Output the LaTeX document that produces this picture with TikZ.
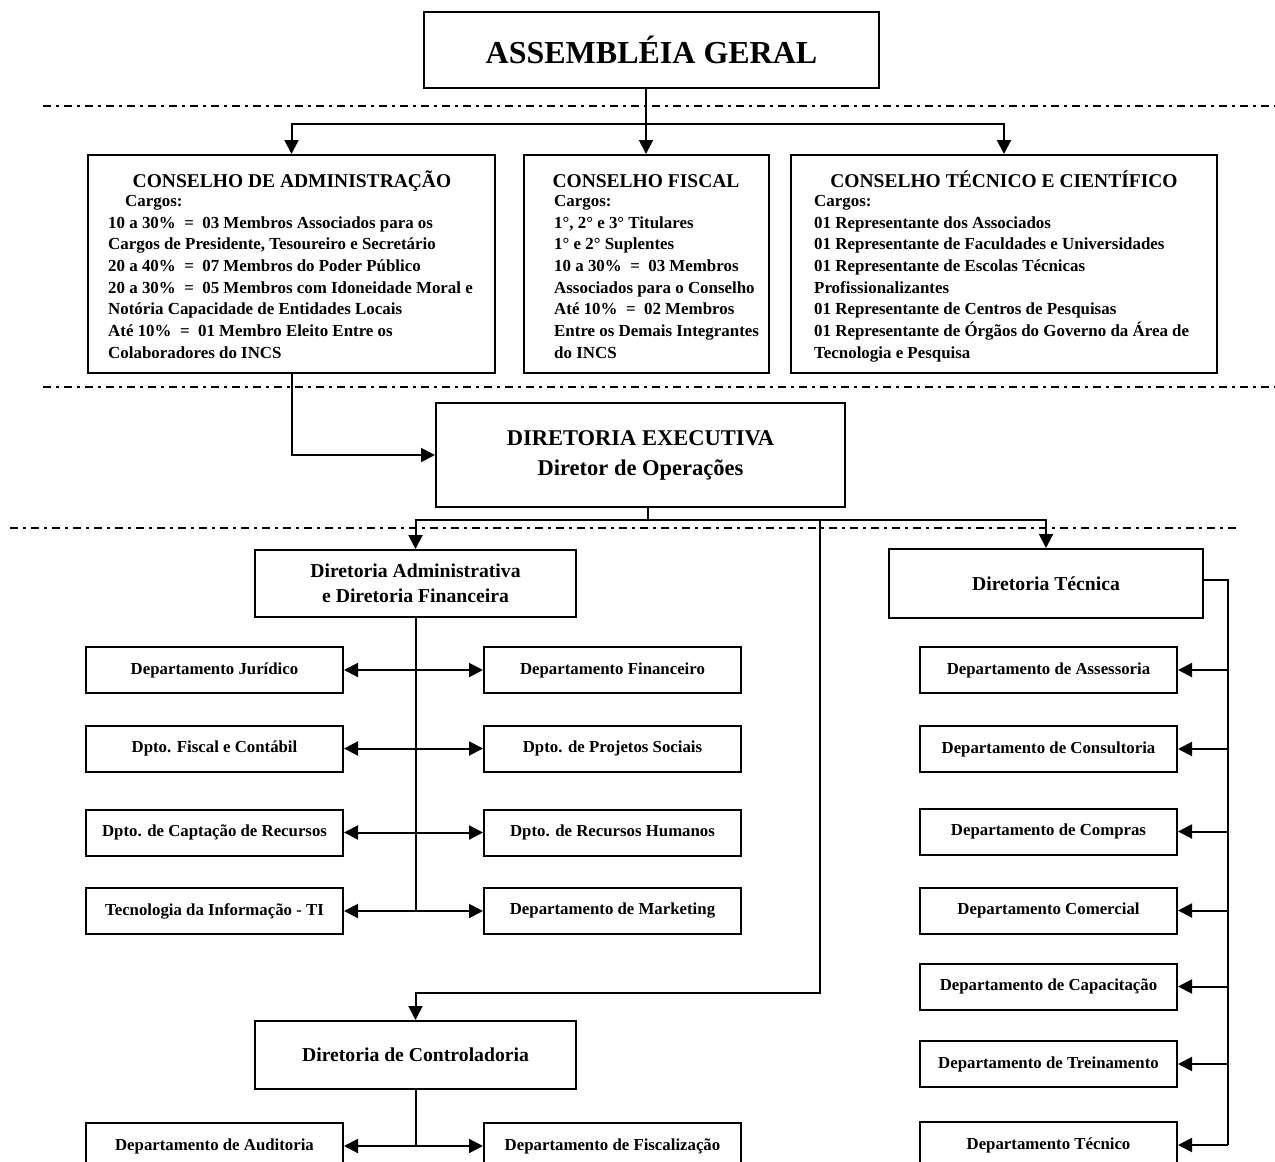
\documentclass[tikz,border=0pt]{standalone}
\usepackage{fontspec}
\setmainfont{Liberation Serif}
\usetikzlibrary{arrows.meta}
\begin{document}
\begin{tikzpicture}[x=1pt,y=-1pt,
  box/.style={draw,line width=2pt,inner sep=0pt,align=center},
  conn/.style={line width=2pt},
  arr/.style={conn,-{Triangle[length=14pt,width=14pt]}},
  dbl/.style={conn,{Triangle[length=14pt,width=14pt]}-{Triangle[length=14pt,width=14pt]}},
  sep/.style={line width=1.8pt,dash pattern=on 8pt off 5pt on 3pt off 5pt},
  dept/.style={box,minimum width=257pt,minimum height=46pt,font=\bfseries\fontsize{16.8}{20}\selectfont},
  dir/.style={box,minimum width=321pt,minimum height=67pt,font=\bfseries\fontsize{19.7}{25}\selectfont},
  head/.style={inner sep=0pt,anchor=base,font=\bfseries\fontsize{19.5}{22}\selectfont},
  body/.style={inner sep=0pt,anchor=north west,align=left,font=\bfseries\fontsize{16.9}{21.7}\selectfont},
]
\useasboundingbox (0,0) rectangle (1275,1162);
\clip (0,0) rectangle (1275,1162);

% separators
\draw[sep] (43,106) -- (1275,106);
\draw[sep] (43,387) -- (1275,387);
\draw[sep] (10,528) -- (1240,528);

% top
\node[box,minimum width=455pt,minimum height=76pt,font=\bfseries\fontsize{32}{36}\selectfont] (ag) at (651.5,50) {ASSEMBLÉIA GERAL};

% councils
\node[box,minimum width=407pt,minimum height=218pt] (ca) at (291.5,264) {};
\node[box,minimum width=245pt,minimum height=218pt] (cf) at (646,264) {};
\node[box,minimum width=426pt,minimum height=218pt] (ct) at (1004,264) {};

\node[head] (cah) at (292,187) {CONSELHO DE ADMINISTRAÇÃO};
\node[body] (cab) at (108,195) {\hspace*{17pt}Cargos:\\
10 a 30\% \ = \ 03 Membros Associados para os\\
Cargos de Presidente, Tesoureiro e Secretário\\
20 a 40\% \ = \ 07 Membros do Poder Público\\
20 a 30\% \ = \ 05 Membros com Idoneidade Moral e\\
Notória Capacidade de Entidades Locais\\
Até 10\% \ = \ 01 Membro Eleito Entre os\\
Colaboradores do INCS};

\node[head] (cfh) at (646,187) {CONSELHO FISCAL};
\node[body] (cfb) at (554,195) {Cargos:\\
1°, 2° e 3° Titulares\\
1° e 2° Suplentes\\
10 a 30\% \ = \ 03 Membros\\
Associados para o Conselho\\
Até 10\% \ = \ 02 Membros\\
Entre os Demais Integrantes\\
do INCS};

\node[head] (cth) at (1004,187) {CONSELHO TÉCNICO E CIENTÍFICO};
\node[body] (ctb) at (814,195) {Cargos:\\
01 Representante dos Associados\\
01 Representante de Faculdades e Universidades\\
01 Representante de Escolas Técnicas\\
Profissionalizantes\\
01 Representante de Centros de Pesquisas\\
01 Representante de Órgãos do Governo da Área de\\
Tecnologia e Pesquisa};

% executive
\node[box,minimum width=409pt,minimum height=104pt,font=\bfseries\fontsize{22.5}{30}\selectfont] (de) at (640.5,455) {DIRETORIA EXECUTIVA\\Diretor de Operações};

% directorates
\node[dir] (da) at (415.5,583.5) {Diretoria Administrativa\\e Diretoria Financeira};
\node[dir,minimum width=314pt,minimum height=69pt] (dt) at (1046,583.5) {Diretoria Técnica};
\node[dir,minimum height=68pt] (dc) at (415.5,1055) {Diretoria de Controladoria};

% admin departments
\node[dept] (jur) at (214.5,670) {Departamento Jurídico};
\node[dept] (fin) at (612.5,670) {Departamento Financeiro};
\node[dept] (fisc) at (214.5,748.5) {Dpto. Fiscal e Contábil};
\node[dept] (proj) at (612.5,748.5) {Dpto. de Projetos Sociais};
\node[dept] (capt) at (214.5,832.5) {Dpto. de Captação de Recursos};
\node[dept] (rh) at (612.5,832.5) {Dpto. de Recursos Humanos};
\node[dept] (ti) at (214.5,911) {Tecnologia da Informação - TI};
\node[dept] (mkt) at (612.5,911) {Departamento de Marketing};

% control departments
\node[dept] (aud) at (214.5,1146) {Departamento de Auditoria};
\node[dept] (fisz) at (612.5,1146) {Departamento de Fiscalização};

% technical departments
\node[dept] (ass) at (1048.5,670) {Departamento de Assessoria};
\node[dept] (cons) at (1048.5,749) {Departamento de Consultoria};
\node[dept] (comp) at (1048.5,831.5) {Departamento de Compras};
\node[dept] (com) at (1048.5,910.5) {Departamento Comercial};
\node[dept] (cap) at (1048.5,986.5) {Departamento de Capacitação};
\node[dept] (trei) at (1048.5,1064) {Departamento de Treinamento};
\node[dept] (tec) at (1048.5,1145) {Departamento Técnico};

% junction coordinates
\coordinate (jA) at (646,124);
\coordinate (jB) at (648,520);
\coordinate (jC) at (820,520);
\coordinate (jD) at (820,993);
\coordinate (jE) at (415.5,911);
\coordinate (jF) at (1228,580);
\coordinate (jG) at (1228,1145);
\coordinate (jH) at (415.5,1146);

% top connectors
\draw[conn] (ag.south -| jA) -- (jA);
\draw[arr] (jA) -| (ca.north);
\draw[arr] (jA) -- (cf.north);
\draw[arr] (jA) -| (ct.north);

\draw[arr] (ca.south) |- (de.west);

\draw[conn] (de.south -| jB) -- (jB);
\draw[arr] (jB) -| (da.north);
\draw[arr] (jB) -| (dt.north);
\draw[arr] (jC) -- (jD) -| (dc.north);

% admin trunk
\draw[conn] (da.south) -- (jE);
\draw[dbl] (jur.east) -- (fin.west);
\draw[dbl] (fisc.east) -- (proj.west);
\draw[dbl] (capt.east) -- (rh.west);
\draw[dbl] (ti.east) -- (mkt.west);

% control trunk
\draw[conn] (dc.south) -- (jH);
\draw[dbl] (aud.east) -- (fisz.west);

% technical trunk
\draw[conn] (dt.east |- jF) -- (jF) -- (jG);
\draw[arr] (ass.east -| jF) -- (ass.east);
\draw[arr] (cons.east -| jF) -- (cons.east);
\draw[arr] (comp.east -| jF) -- (comp.east);
\draw[arr] (com.east -| jF) -- (com.east);
\draw[arr] (cap.east -| jF) -- (cap.east);
\draw[arr] (trei.east -| jF) -- (trei.east);
\draw[arr] (tec.east -| jF) -- (tec.east);
\end{tikzpicture}
\end{document}
